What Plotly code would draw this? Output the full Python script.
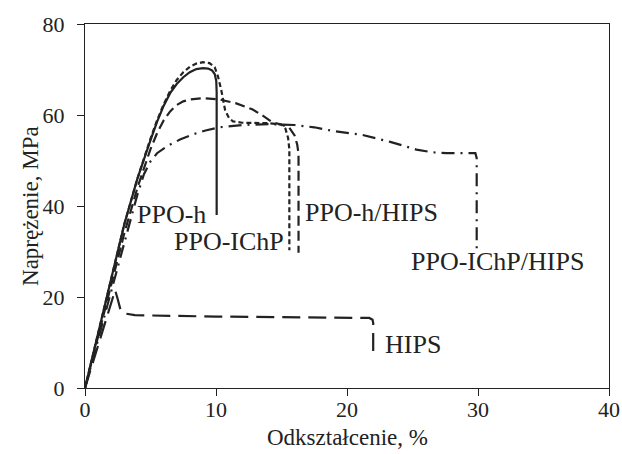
import plotly.graph_objects as go

# PPO-h (solid)
ppo_h_x = [0, 1, 2, 3, 4, 4.5, 5, 5.5, 6, 6.5, 7, 7.5, 8, 8.5, 9, 9.4, 9.7, 9.9, 10.02, 10.05, 10.05]
ppo_h_y = [0, 12, 24, 36, 46, 50.5, 54.5, 58.5, 62, 64.8, 66.8, 68.3, 69.4, 70.1, 70.3, 70.2, 69.8, 69, 67.5, 65, 38]

# PPO-IChP (short dash)
ppo_ichp_x = [0, 1, 2, 3, 4, 4.5, 5, 5.5, 6, 6.5, 7, 7.5, 8, 8.5, 9.0, 9.5, 9.9, 10.15, 10.4, 10.7, 11.0, 11.3, 12, 14, 15.0, 15.3, 15.5, 15.6, 15.6]
ppo_ichp_y = [0, 12, 24, 36, 46, 50.5, 54.8, 58.8, 62.3, 65.3, 67.7, 69.4, 70.6, 71.3, 71.6, 71.4, 70.5, 68.5, 65.5, 61, 59.3, 58.6, 58.3, 58.2, 57.9, 57, 55, 52.5, 30.3]

# PPO-h/HIPS (medium dash)
ppo_h_hips_x = [0, 1, 2, 3, 4, 4.5, 5, 5.5, 6, 6.5, 7, 7.5, 8, 9, 10.3, 11.5, 12.8, 13.6, 14.3, 15.0, 15.6, 16.0, 16.2, 16.3, 16.3]
ppo_h_hips_y = [0, 11.5, 23, 34, 44, 48.5, 52.5, 56, 58.8, 60.8, 62.2, 63.0, 63.4, 63.7, 63.4, 62.6, 61.2, 59.8, 58.4, 57.9, 57.2, 55.5, 53.5, 51.5, 29.7]

# PPO-IChP/HIPS (dash-dot)
ppo_ichp_hips_x = [0, 1, 2, 3, 4, 4.5, 5, 5.5, 6.3, 7.25, 8.2, 9.2, 10.3, 12, 14, 16, 17.5, 18.9, 21.2, 23.3, 25.3, 26.5, 27.6, 29.8, 29.9, 29.9]
ppo_ichp_hips_y = [0, 10.5, 21, 32, 42.5, 47, 49.8, 51.6, 53.2, 54.6, 55.7, 56.6, 57.3, 57.8, 58, 57.8, 57.3, 56.5, 55.6, 54.1, 52.4, 51.8, 51.6, 51.6, 50.5, 30.3]

# HIPS (long dash)
hips_x = [0, 1, 2, 2.3, 2.5, 2.7, 3.0, 3.8, 10, 16, 20, 21.7, 21.95, 22, 22]
hips_y = [0, 9.5, 19, 21.5, 19.5, 17.3, 16.4, 16, 15.7, 15.6, 15.5, 15.4, 15.0, 14.3, 8]

labels = ["PPO-h", "PPO-IChP", "PPO-h/HIPS", "PPO-IChP/HIPS", "HIPS"]
label_x = [6.6, 11.0, 21.9, 31.5, 25.0]
label_y = [38.2, 32.3, 38.5, 27.7, 9.5]

x_ticks = [0, 10, 20, 30, 40]
y_ticks = [0, 20, 40, 60, 80]

x_title = "Odkształcenie, %"
y_title = "Naprężenie, MPa"

FONT = "Liberation Serif"
INK = "#222222"

series = [
    (ppo_h_x, ppo_h_y, "solid"),
    (ppo_ichp_x, ppo_ichp_y, "5px,3px"),
    (ppo_h_hips_x, ppo_h_hips_y, "10px,5px"),
    (ppo_ichp_hips_x, ppo_ichp_hips_y, "13px,6px,2px,6px"),
    (hips_x, hips_y, "18px,8px"),
]

fig = go.Figure()
for (xs, ys, dash), name in zip(series, labels):
    fig.add_trace(go.Scatter(x=xs, y=ys, mode="lines", name=name,
                             line=dict(color=INK, width=2.2, dash=dash)))

for t, x, y in zip(labels, label_x, label_y):
    fig.add_annotation(x=x, y=y, xref="x", yref="y", text=t, showarrow=False,
                       font=dict(family=FONT, size=26, color=INK))

# axis titles as annotations for exact placement
fig.add_annotation(x=0.5, y=-0.137, xref="paper", yref="paper", text=x_title,
                   showarrow=False, xanchor="center", yanchor="middle",
                   font=dict(family=FONT, size=23, color=INK))
fig.add_annotation(x=-0.105, y=0.5, xref="paper", yref="paper", text=y_title,
                   showarrow=False, xanchor="center", yanchor="middle", textangle=-90,
                   font=dict(family=FONT, size=23, color=INK))

axis_common = dict(showline=True, linecolor=INK, linewidth=1.3, mirror=True,
                   ticks="outside", ticklen=7, tickcolor=INK, tickwidth=1.3,
                   showgrid=False, zeroline=False, automargin=False,
                   tickfont=dict(family=FONT, size=22, color=INK))

fig.update_layout(
    width=622, height=454,
    margin=dict(l=85, r=13, t=24, b=66),
    paper_bgcolor="white", plot_bgcolor="white",
    showlegend=False,
    xaxis=dict(range=[0, 40], tickvals=x_ticks, ticklabelstandoff=-6, **axis_common),
    yaxis=dict(range=[0, 80], tickvals=y_ticks, ticklabelstandoff=8, **axis_common),
)

fig.write_html("out.html")
